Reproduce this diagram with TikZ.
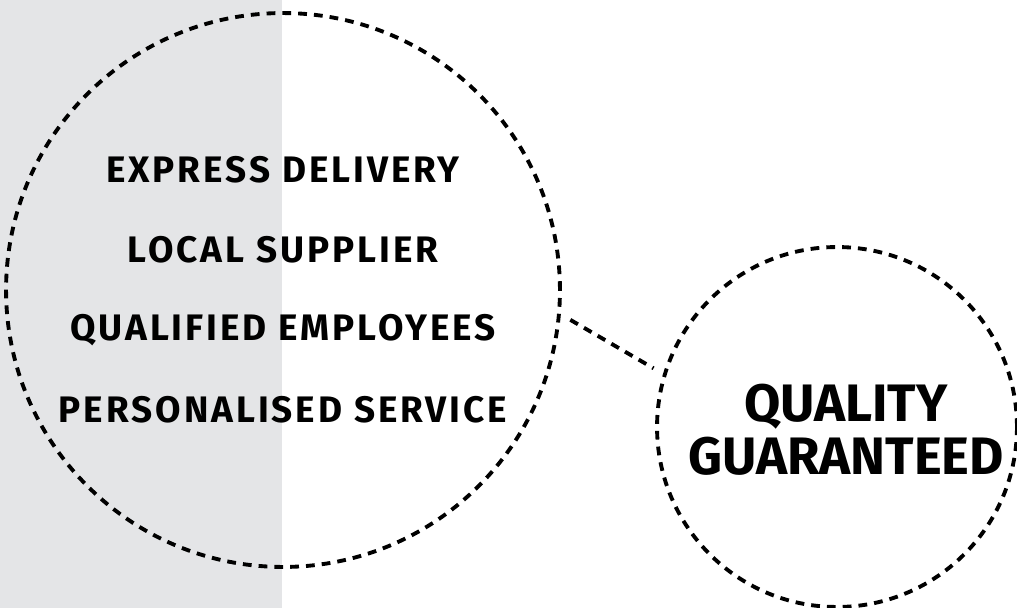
\documentclass[tikz,border=0pt]{standalone}
\usepackage{fontspec}
\newfontfamily\heavyfont{Fira Sans}
\newfontfamily\widefont{Fira Sans}[LetterSpace=8]
\definecolor{panelgrey}{HTML}{E4E5E7}
\tikzset{
  ring/.style={circle, draw, line width=2.2pt, dash pattern=on 5pt off 4pt, inner sep=0pt},
  item/.style={font=\widefont\bfseries\fontsize{21}{24}\selectfont},
  goal/.style={font=\heavyfont\bfseries\fontsize{30}{30}\selectfont, align=center}
}
\begin{document}
\begin{tikzpicture}[x=0.02cm, y=-0.02cm]
  \useasboundingbox (0,0) rectangle (1017,608);
  %fondo
  \fill[panelgrey] (0,0) rectangle (282,608);
  %cerchi
  \node[ring, minimum size=11.08cm] (big) at (283,290) {};
  \node[ring, minimum size=7.2cm] (small) at (837,427) {};
  \draw[line width=2.2pt, dash pattern=on 5pt off 4pt, shorten <=0.22cm, shorten >=0.22cm] (big.-5) -- (small.163);
  %testi
  \node[item] (express) at (283,170) {EXPRESS DELIVERY};
  \node[item] (local) at (283,250) {LOCAL SUPPLIER};
  \node[item] (staff) at (283,330) {QUALIFIED EMPLOYEES};
  \node[item] (service) at (283,410) {PERSONALISED SERVICE};
  \node[goal] (quality) at (846,430) {QUALITY\\GUARANTEED};
\end{tikzpicture}
\end{document}
